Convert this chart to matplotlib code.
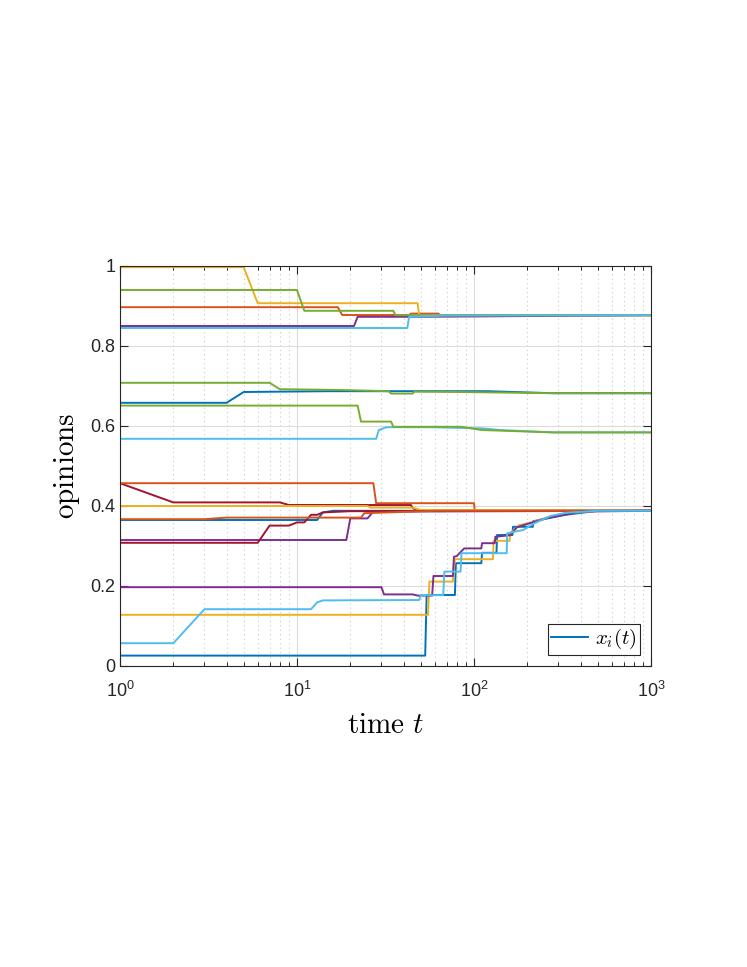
import matplotlib
matplotlib.use('Agg')
import matplotlib.pyplot as plt
import numpy as np
from matplotlib.ticker import LogLocator, NullFormatter, FixedLocator

plt.rcParams['font.family'] = ['Liberation Sans', 'DejaVu Sans']
plt.rcParams['mathtext.fontset'] = 'custom'
plt.rcParams['mathtext.rm'] = 'Liberation Sans'
plt.rcParams['mathtext.it'] = 'Liberation Sans:italic'

# MATLAB default colour order
blue = '#0072BD'
orange = '#D95319'
yellow = '#EDB120'
purple = '#7E2F8E'
green = '#77AC30'
lblue = '#4DBEEE'
dred = '#A2142F'

# opinion trajectories as (time, value) vertices
blue1_t = [1, 4, 5, 15, 120, 280, 1000]
blue1_v = [0.658, 0.658, 0.685, 0.687, 0.687, 0.682, 0.682]

orange1_t = [1, 17, 18, 43, 44, 63, 64, 1000]
orange1_v = [0.897, 0.897, 0.8775, 0.8775, 0.881, 0.881, 0.877, 0.877]

yellow1_t = [1, 5, 6, 48, 49, 1000]
yellow1_v = [0.997, 0.997, 0.907, 0.907, 0.877, 0.877]

purple1_t = [1, 21, 22, 50, 1000]
purple1_v = [0.850, 0.850, 0.873, 0.873, 0.877]

green1_t = [1, 10, 11, 35, 36, 1000]
green1_v = [0.940, 0.940, 0.888, 0.888, 0.877, 0.877]

lblue1_t = [1, 42, 43, 70, 1000]
lblue1_v = [0.845, 0.845, 0.873, 0.876, 0.877]

dred1_t = [1, 2, 8, 9, 44, 45, 48, 1000]
dred1_v = [0.457, 0.409, 0.409, 0.4025, 0.4025, 0.395, 0.389, 0.388]

blue2_t = [1, 13, 14, 16, 1000]
blue2_v = [0.365, 0.365, 0.384, 0.388, 0.388]

orange2_t = [1, 27, 28, 100, 101, 1000]
orange2_v = [0.457, 0.457, 0.407, 0.407, 0.388, 0.388]

yellow2_t = [1, 25, 26, 45, 50, 1000]
yellow2_v = [0.400, 0.400, 0.396, 0.396, 0.390, 0.388]

purple2_t = [1, 19, 20, 25, 27, 1000]
purple2_v = [0.315, 0.315, 0.369, 0.369, 0.386, 0.388]

green2_t = [1, 7, 8, 18, 33, 34, 45, 46, 83, 280, 1000]
green2_v = [0.708, 0.708, 0.692, 0.690, 0.687, 0.681, 0.681, 0.686, 0.685, 0.682, 0.682]

lblue2_t = [1, 28, 29, 32, 56, 112, 140, 280, 1000]
lblue2_v = [0.568, 0.568, 0.590, 0.597, 0.597, 0.594, 0.590, 0.584, 0.584]

dred2_t = [1, 6, 7, 9, 10, 11, 12, 13, 14, 20, 1000]
dred2_v = [0.308, 0.308, 0.351, 0.351, 0.359, 0.359, 0.378, 0.378, 0.384, 0.387, 0.388]

blue3_t = [1, 53, 54, 78, 79, 110, 111, 134, 135, 165, 166, 215, 216, 330, 500, 1000]
blue3_v = [0.026, 0.026, 0.1775, 0.1775, 0.257, 0.257, 0.283, 0.283, 0.3275, 0.3275,
           0.348, 0.348, 0.362, 0.378, 0.388, 0.388]

orange3_t = [1, 3, 4, 23, 24, 60, 1000]
orange3_v = [0.367, 0.367, 0.371, 0.371, 0.382, 0.388, 0.388]

yellow3_t = [1, 55, 56, 76, 77, 78, 128, 129, 159, 160, 180, 215, 265, 335, 500, 1000]
yellow3_v = [0.128, 0.128, 0.211, 0.211, 0.244, 0.267, 0.267, 0.313, 0.313, 0.332,
             0.352, 0.360, 0.373, 0.382, 0.388, 0.388]

purple3_t = [1, 30, 31, 45, 48, 58, 59, 76, 77, 80, 88, 110, 111, 131, 132, 160, 175, 200, 260, 400, 1000]
purple3_v = [0.197, 0.197, 0.179, 0.179, 0.176, 0.176, 0.225, 0.225, 0.273, 0.275,
             0.294, 0.294, 0.307, 0.307, 0.323, 0.327, 0.347, 0.355, 0.370, 0.386, 0.388]

green3_t = [1, 22, 23, 34, 35, 85, 110, 280, 1000]
green3_v = [0.651, 0.651, 0.611, 0.611, 0.598, 0.598, 0.590, 0.584, 0.584]

lblue3_t = [1, 2, 3, 12, 13, 14, 49, 50, 67, 68, 84, 85, 153, 154, 190, 215, 270, 330, 500, 1000]
lblue3_v = [0.057, 0.057, 0.142, 0.142, 0.159, 0.164, 0.165, 0.177, 0.177, 0.236,
            0.236, 0.282, 0.282, 0.332, 0.340, 0.355, 0.375, 0.383, 0.388, 0.388]

series = [
    (blue1_t, blue1_v, blue), (orange1_t, orange1_v, orange), (yellow1_t, yellow1_v, yellow),
    (purple1_t, purple1_v, purple), (green1_t, green1_v, green), (lblue1_t, lblue1_v, lblue),
    (dred1_t, dred1_v, dred), (blue2_t, blue2_v, blue), (orange2_t, orange2_v, orange),
    (yellow2_t, yellow2_v, yellow), (purple2_t, purple2_v, purple), (green2_t, green2_v, green),
    (lblue2_t, lblue2_v, lblue), (dred2_t, dred2_v, dred), (blue3_t, blue3_v, blue),
    (orange3_t, orange3_v, orange), (yellow3_t, yellow3_v, yellow), (purple3_t, purple3_v, purple),
    (green3_t, green3_v, green), (lblue3_t, lblue3_v, lblue),
]

fig = plt.figure(figsize=(7.47, 9.67), dpi=100)
ax = fig.add_axes([120 / 747, 301 / 967, 531 / 747, 400 / 967])

for i, (t, v, c) in enumerate(series):
    ax.plot(t, v, color=c, lw=1.4, label=r'$x_i(t)$' if i == 0 else None)

ax.set_xscale('log')
ax.set_xlim(1, 1000)
ax.set_ylim(0, 1)
ax.set_yticks([0, 0.2, 0.4, 0.6, 0.8, 1])
ax.set_yticklabels(['0', '0.2', '0.4', '0.6', '0.8', '1'])
ax.xaxis.set_major_locator(FixedLocator([1, 10, 100, 1000]))
ax.set_xticklabels([r'$10^0$', r'$10^1$', r'$10^2$', r'$10^3$'])
ax.xaxis.set_minor_locator(LogLocator(base=10, subs=np.arange(2, 10)))
ax.xaxis.set_minor_formatter(NullFormatter())

ax.grid(True, which='major', color='#dcdcdc', lw=0.8)
ax.grid(True, which='minor', axis='x', color='#c8c8c8', lw=0.8, ls=(0, (1, 3)))
ax.set_axisbelow(True)

ax.tick_params(which='both', direction='in', top=True, right=True, colors='#262626',
               labelsize=13, labelcolor='#262626')
ax.tick_params(which='major', length=6, width=0.8)
ax.tick_params(which='minor', length=3, width=0.7)
ax.tick_params(axis='x', pad=11)
for s in ax.spines.values():
    s.set_color('#262626')
    s.set_linewidth(0.8)

ax.set_xlabel(r'$\mathrm{time}\ t$', fontsize=21, math_fontfamily='cm', labelpad=7)
ax.set_ylabel(r'$\mathrm{opinions}$', fontsize=21, math_fontfamily='cm', labelpad=6)

leg = ax.legend(loc='lower right', fontsize=15, frameon=True, fancybox=False,
                edgecolor='#262626', framealpha=1, handlelength=1.8, handletextpad=0.3,
                borderaxespad=0.55, borderpad=0.15)
leg.get_frame().set_linewidth(0.8)
for txt in leg.get_texts():
    txt.set_math_fontfamily('cm')

fig.savefig('out.png', dpi=100, facecolor='white')
